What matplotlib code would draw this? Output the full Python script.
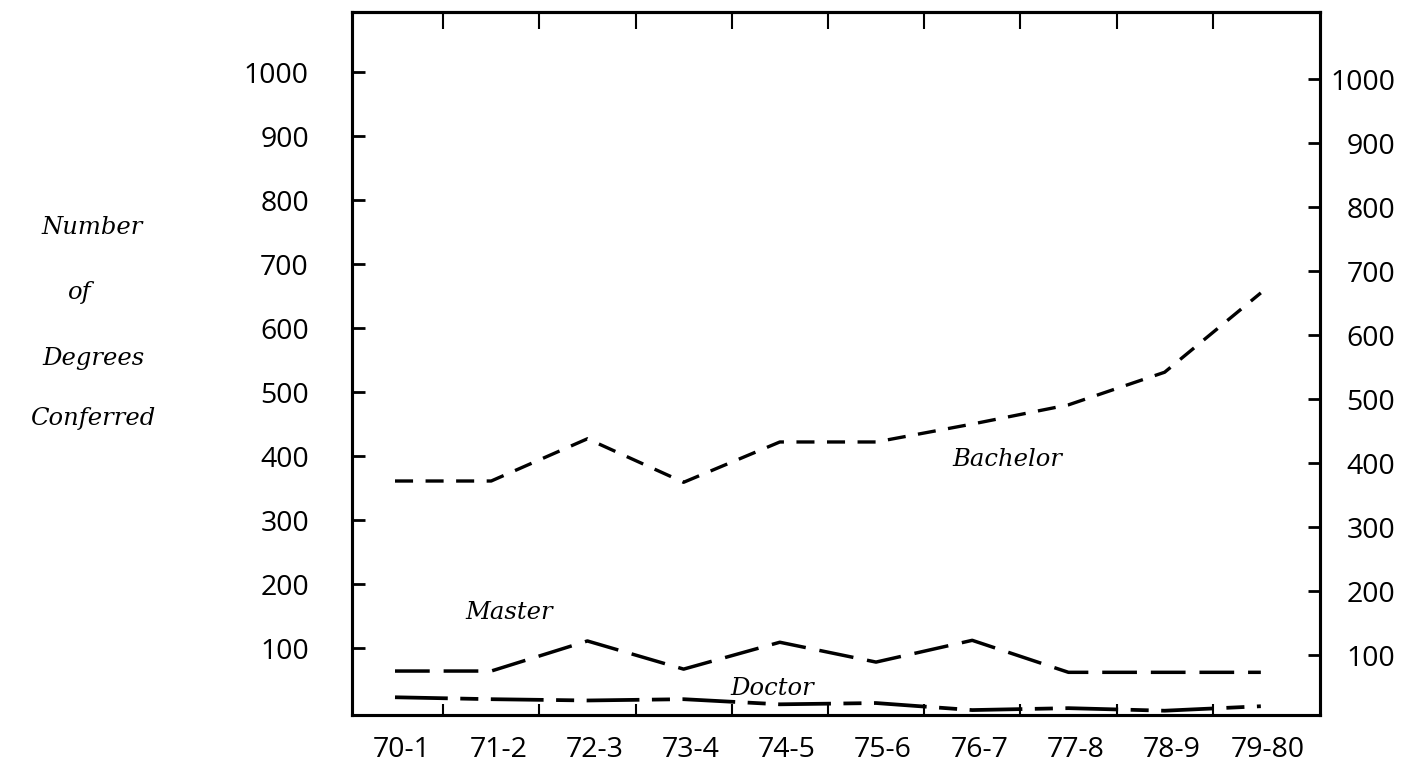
import matplotlib.pyplot as plt
import matplotlib.transforms as mtransforms

plt.rcParams['lines.scale_dashes'] = False

years = ['70-1', '71-2', '72-3', '73-4', '74-5', '75-6', '76-7', '77-8', '78-9', '79-80']
bachelor = [361, 361, 427, 359, 422, 422, 450, 480, 531, 655]
master = [64, 64, 111, 67, 109, 78, 112, 62, 62, 62]
doctor = [23, 20, 18, 20, 12, 14, 3, 6, 2, 9]
yticks = [100, 200, 300, 400, 500, 600, 700, 800, 900, 1000]

W, H = 1413, 761
fig = plt.figure(figsize=(W / 100, H / 100), dpi=100)
ax = fig.add_axes([352 / W, 1 - 715 / H, (1320 - 352) / W, (715 - 12) / H])

x = list(range(len(years)))
ax.plot(x, bachelor, color='black', lw=2.4, dashes=(13, 9))
ax.plot(x, master, color='black', lw=2.5, dashes=(25, 10))
ax.plot(x, doctor, color='black', lw=2.7, dashes=(38, 9, 13, 9))

ax.set_xlim(-0.447, 9.615)
ax.set_ylim(-4.7, 1094)

serif_it = dict(family='DejaVu Serif', style='italic', fontsize=17.5)
ax.text(6.37, 394, 'Bachelor', ha='center', va='center', **serif_it)
ax.text(1.19, 156, 'Master', ha='center', va='center', **serif_it)
ax.text(3.92, 37, 'Doctor', ha='center', va='center', **serif_it)

tick_font = 'Open Sans'
ax.set_xticks(x)
ax.set_xticklabels(years, fontfamily=tick_font, fontsize=20.5)
ax.set_xticks([i + 0.5 for i in range(9)], minor=True)
ax.tick_params(axis='x', which='major', length=0, pad=15)
ax.tick_params(axis='x', which='minor', direction='in', length=8, width=1.5)
shift = mtransforms.ScaledTranslation(7 / 100, 0, fig.dpi_scale_trans)
for t in ax.get_xticklabels():
    t.set_transform(t.get_transform() + shift)

ax.set_yticks(yticks)
ax.set_yticklabels([str(v) for v in yticks], fontfamily=tick_font, fontsize=20.5)
ax.tick_params(axis='y', direction='in', length=9, width=2, pad=31)

top = ax.secondary_xaxis('top')
top.set_xticks([i + 0.5 for i in range(9)])
top.set_xticklabels([])
top.tick_params(direction='in', length=12, width=1.5)
top.spines['top'].set_linewidth(2.2)

ax2 = ax.twinx()
ax2.set_ylim(6.3, 1105)
ax2.set_yticks(yticks)
ax2.set_yticklabels([str(v) for v in yticks], fontfamily=tick_font, fontsize=20.5)
ax2.tick_params(axis='y', direction='in', length=9, width=2, pad=54)
for t in ax2.get_yticklabels():
    t.set_horizontalalignment('right')

for a in (ax, ax2):
    for s in a.spines.values():
        s.set_linewidth(2.2)

for label, px, py in [('Number', 92, 228), ('of', 80, 293),
                      ('Degrees', 93, 358), ('Conferred', 93, 418)]:
    fig.text(px / W, 1 - py / H, label, ha='center', va='center', **serif_it)

fig.savefig('out.png', dpi=100)
